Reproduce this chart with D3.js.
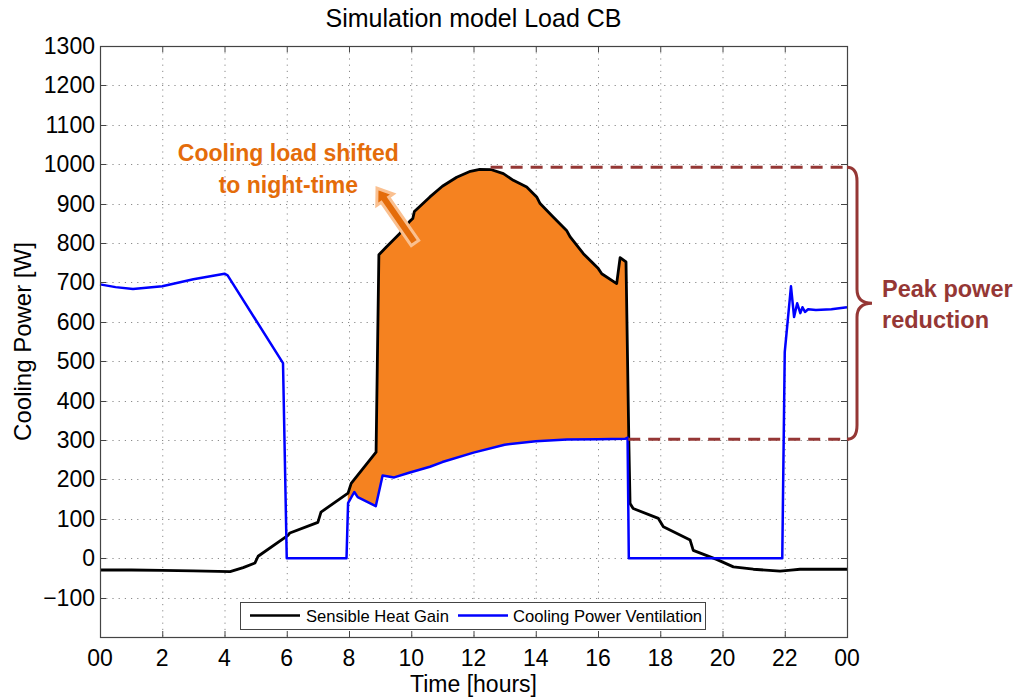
<!DOCTYPE html>
<html><head><meta charset="utf-8">
<script src="https://cdn.jsdelivr.net/npm/d3@7"></script>
<style>
body{margin:0;background:#fff;}
svg text{font-family:"Liberation Sans",Arial,sans-serif;}
</style></head>
<body><svg id="chart" width="1021" height="698"></svg>
<script>
// ---- data ----
const xTickValues = [0,2,4,6,8,10,12,14,16,18,20,22,24];
const xTickLabels = ["00","2","4","6","8","10","12","14","16","18","20","22","00"];
const yTickValues = [-100,0,100,200,300,400,500,600,700,800,900,1000,1100,1200,1300];
const seriesNames = ["Sensible Heat Gain","Cooling Power Ventilation"];
// Sensible Heat Gain [hours, W]
const heatGain = [[0,-30],[1,-30],[2,-31],[3,-32],[4.18,-34],[4.6,-24],[4.98,-12],[5.08,5],[6.04,58],[6.1,64],[7.0,91],[7.1,117],[7.97,165],[8.07,190],[8.87,269],[8.96,770],[9.2,790],[9.64,825],[9.95,855],[10.05,862],[10.1,880],[10.6,917],[11.0,944],[11.46,967],[11.9,982],[12.2,987],[12.58,986],[12.96,976],[13.28,959],[13.71,942],[14.03,917],[14.14,900],[14.56,866],[14.99,832],[15.1,816],[15.53,773],[16.01,735],[16.12,722],[16.6,697],[16.71,763],[16.9,752],[16.99,300],[17.03,139],[17.13,126],[17.94,101],[18.1,80],[18.96,46],[19.06,20],[19.81,-3],[20.35,-22],[20.99,-28],[21.85,-33],[22.2,-30],[22.49,-28],[23,-28],[24,-28]];
// Cooling Power Ventilation [hours, W]
const ventilation = [[0,695],[0.5,688],[1.06,683],[2,690],[3,708],[4,722],[4.1,718],[5.88,495],[6.0,0],[7.92,0],[7.97,140],[8.17,168],[8.28,155],[8.86,132],[9.08,210],[9.45,205],[9.93,217],[10.6,232],[11,244],[12,268],[13,288],[14,297],[15,301],[16,302],[16.87,303],[16.95,306],[16.99,0],[21.92,0],[22.0,523],[22.2,690],[22.3,612],[22.4,647],[22.5,622],[22.57,637],[22.65,625],[22.75,632],[23,630],[23.5,632],[24,637]];
const shiftWindow = [7.96, 16.98];
const peakLevel = 992, reducedPeak = 302;
const arrowFrom = [10.12,800], arrowTo = [8.9,939];
const noteText = ["Cooling load shifted","to night-time"];
const noteAnchor = [6.05, 1008];
const braceText = ["Peak power","reduction"];

// ---- layout ----
const W=1021,H=698, m={l:100,r:174,t:46,b:61};
const svg=d3.select("#chart");
const x=d3.scaleLinear().domain([0,24]).range([m.l,W-m.r]);
const y=d3.scaleLinear().domain([-200,1300]).range([H-m.b,m.t]);
const x0=x.range()[0], x1=x.range()[1], y0=y.range()[0], y1=y.range()[1];

// grid
const grid=svg.append("g").attr("stroke","#8a8a8a").attr("stroke-width",1).attr("stroke-dasharray","1.2,5");
grid.selectAll(".gx").data(xTickValues.slice(1,-1)).join("line")
 .attr("x1",d=>x(d)+0.5).attr("x2",d=>x(d)+0.5).attr("y1",y1).attr("y2",y0);
grid.selectAll(".gy").data(yTickValues).join("line")
 .attr("y1",d=>Math.round(y(d))+0.5).attr("y2",d=>Math.round(y(d))+0.5).attr("x1",x0).attr("x2",x1);

// fill between curves
function interp(s,t){for(let i=1;i<s.length;i++){if(t<=s[i][0]){const a=s[i-1],b=s[i];return a[1]+(b[1]-a[1])*(t-a[0])/(b[0]-a[0]);}}return s[s.length-1][1];}
const ts=Array.from(new Set([shiftWindow[0],shiftWindow[1],...heatGain.map(d=>d[0]),...ventilation.map(d=>d[0])]))
 .filter(t=>t>=shiftWindow[0]&&t<=shiftWindow[1]).sort((a,b)=>a-b);
const band=ts.map(t=>({t,lo:interp(ventilation,t),hi:Math.max(interp(heatGain,t),interp(ventilation,t))}));
svg.append("path").datum(band).attr("fill","#F58220")
 .attr("d",d3.area().x(d=>x(d.t)).y0(d=>y(d.lo)).y1(d=>y(d.hi)));

// lines
const line=d3.line().x(d=>x(d[0])).y(d=>y(d[1]));
svg.append("path").datum(heatGain).attr("fill","none").attr("stroke","#000").attr("stroke-width",2.8).attr("stroke-linejoin","round").attr("d",line);
svg.append("path").datum(ventilation).attr("fill","none").attr("stroke","#0000FF").attr("stroke-width",2.5).attr("stroke-linejoin","round").attr("d",line);

// axes box
const ax=svg.append("g");
ax.append("rect").attr("x",x0+0.5).attr("y",y1+0.5).attr("width",x1-x0).attr("height",y0-y1).attr("fill","none").attr("stroke","#444").attr("stroke-width",1.2);
const tl=6;
ax.selectAll(".tb").data(xTickValues).join("line").attr("x1",d=>x(d)+0.5).attr("x2",d=>x(d)+0.5).attr("y1",y0).attr("y2",y0-tl).attr("stroke","#444");
ax.selectAll(".tt").data(xTickValues).join("line").attr("x1",d=>x(d)+0.5).attr("x2",d=>x(d)+0.5).attr("y1",y1).attr("y2",y1+tl).attr("stroke","#444");
ax.selectAll(".tlft").data(yTickValues.concat([-200])).join("line").attr("y1",d=>Math.round(y(d))+0.5).attr("y2",d=>Math.round(y(d))+0.5).attr("x1",x0).attr("x2",x0+tl).attr("stroke","#444");
ax.selectAll(".trt").data(yTickValues).join("line").attr("y1",d=>Math.round(y(d))+0.5).attr("y2",d=>Math.round(y(d))+0.5).attr("x1",x1).attr("x2",x1-tl).attr("stroke","#444");
ax.selectAll(".xl").data(xTickValues).join("text").attr("x",d=>x(d)).attr("y",y0+29).attr("text-anchor","middle")
 .attr("font-size",23).text((d,i)=>xTickLabels[i]);
ax.selectAll(".yl").data(yTickValues).join("text").attr("x",x0-5).attr("y",d=>y(d)+8).attr("text-anchor","end")
 .attr("font-size",23).text(d=>d<0?"\u2212"+(-d):d);
svg.append("text").attr("x",(x0+x1)/2).attr("y",H-6).attr("text-anchor","middle").attr("font-size",23).text("Time [hours]");
svg.append("text").attr("transform",`translate(31,${(y0+y1)/2}) rotate(-90)`).attr("text-anchor","middle").attr("font-size",24).text("Cooling Power [W]");
svg.append("text").attr("x",(x0+x1)/2).attr("y",27).attr("text-anchor","middle").attr("font-size",25).text("Simulation model Load CB");

// legend
const lg=svg.append("g");
lg.append("rect").attr("x",240.5).attr("y",602.5).attr("width",465).attr("height",27).attr("fill","#fff").attr("stroke","#444");
lg.append("line").attr("x1",250).attr("x2",300).attr("y1",615.5).attr("y2",615.5).attr("stroke","#000").attr("stroke-width",2.5);
lg.append("text").attr("x",306).attr("y",621.5).attr("font-size",16.6).text(seriesNames[0]);
lg.append("line").attr("x1",458).attr("x2",508).attr("y1",615.5).attr("y2",615.5).attr("stroke","#0000FF").attr("stroke-width",2.5);
lg.append("text").attr("x",513).attr("y",621.5).attr("font-size",16.6).text(seriesNames[1]);

// annotations
const red="#953735";
svg.append("line").attr("x1",x(12.55)).attr("x2",x1+2).attr("y1",y(peakLevel)).attr("y2",y(peakLevel)).attr("stroke",red).attr("stroke-width",3).attr("stroke-dasharray","12,8");
svg.append("line").attr("x1",x(16.97)).attr("x2",x1+2).attr("y1",y(reducedPeak)).attr("y2",y(reducedPeak)).attr("stroke",red).attr("stroke-width",3).attr("stroke-dasharray","12,8");
const bt=y(peakLevel), bb=y(reducedPeak), bm=(bt+bb)/2, bx=x1+10, tip=x1+25;
svg.append("path").attr("fill","none").attr("stroke",red).attr("stroke-width",3)
 .attr("d",`M${x1},${bt} Q${bx},${bt} ${bx},${bt+14} L${bx},${bm-14} Q${bx},${bm} ${tip},${bm} Q${bx},${bm} ${bx},${bm+14} L${bx},${bb-14} Q${bx},${bb} ${x1},${bb}`);
svg.selectAll(".bt").data(braceText).join("text").attr("x",x1+35).attr("y",(d,i)=>bm-6+i*30.5).attr("fill",red)
 .attr("font-family","Lato").attr("font-weight","bold").attr("font-size",23.5).text(d=>d);

const orange="#E46C0A";
svg.selectAll(".note").data(noteText).join("text").attr("x",x(noteAnchor[0])).attr("y",(d,i)=>y(noteAnchor[1])+i*32)
 .attr("text-anchor","middle").attr("fill",orange).attr("font-family","Lato").attr("font-weight","bold").attr("font-size",23).text(d=>d);

// arrow
const ax0=x(arrowFrom[0]),ay0=y(arrowFrom[1]),ax1=x(arrowTo[0]),ay1=y(arrowTo[1]);
const dx=ax1-ax0,dy=ay1-ay0,L=Math.hypot(dx,dy),ux=dx/L,uy=dy/L,nx=-uy,ny=ux;
const sw=4.5,hw=10,hl=14;
const P=(s,n)=>[ax0+ux*s+nx*n, ay0+uy*s+ny*n];
const pts=[P(0,-sw),P(L-hl,-sw),P(L-hl,-hw),P(L,0),P(L-hl,hw),P(L-hl,sw),P(0,sw)];
svg.append("path").attr("d","M"+pts.map(p=>p.join(",")).join("L")+"Z").attr("fill",orange).attr("stroke","#FAC090").attr("stroke-width",3).attr("stroke-linejoin","miter");
</script></body></html>
